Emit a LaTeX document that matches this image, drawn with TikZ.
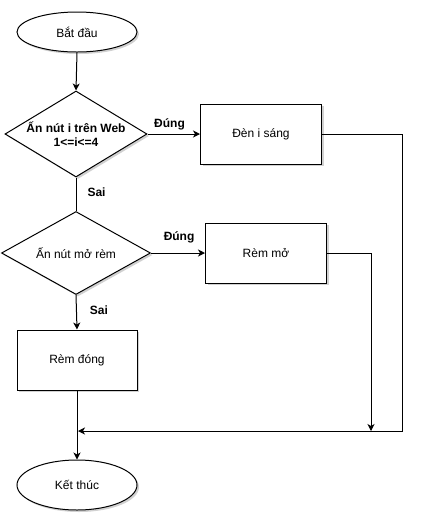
\documentclass[tikz,border=0pt]{standalone}
\usepackage{fontspec}
\setmainfont{Liberation Sans}
\usetikzlibrary{shapes.geometric,arrows.meta,shadows}
\begin{document}
\begin{tikzpicture}[x=1pt,y=-1pt,
  every node/.style={font=\fontsize{12}{14}\selectfont},
  shade/.style={drop shadow={shadow xshift=2pt,shadow yshift=-2pt,opacity=0.18,fill=black}},
  shp/.style={draw=black,line width=1pt,fill=white,shade,inner sep=0pt},
  term/.style={shp,ellipse,minimum width=120pt},
  procbox/.style={shp,rectangle,minimum width=121pt,minimum height=60pt},
  decision/.style={shp,diamond},
  lbl/.style={font=\fontsize{12}{14}\selectfont\bfseries,inner sep=1pt},
  conn/.style={line width=1pt,draw=black},
  arr/.style={conn,-{Stealth[length=7pt,width=7pt,inset=2pt]}}
]
\useasboundingbox (0,0) rectangle (421,523);

\node[term,minimum height=40pt] (start) at (77,32) {Bắt đầu};
\node[decision,minimum width=142pt,minimum height=86pt] (d1) at (76,134) {};
\node[align=center,font=\fontsize{12}{14}\selectfont\bfseries] (d1t) at (76,134) {Ấn nút i trên Web\\1<=i<=4};
\node[procbox] (den) at (261,134) {Đèn i sáng};
\node[decision,minimum width=149pt,minimum height=83pt] (d2) at (76,253) {};
\node (d2t) at (76,253) {Ấn nút mở rèm};
\node[procbox] (remmo) at (266,253) {Rèm mở};
\node[procbox,minimum width=120pt] (remdong) at (77,360) {Rèm đóng};
\node[term,minimum height=50pt] (end) at (77,485) {Kết thúc};

\coordinate (j) at (77,431);
\coordinate (r1) at (402,134);
\coordinate (r1b) at (402,431);
\coordinate (r2) at (371,253);
\coordinate (r2b) at (371,431);

\draw[arr] (start.south) -- (d1.north);
\draw[arr] (d1.east) -- node[lbl,pos=0.42,above=2pt] {Đúng} (den.west);
\draw[conn] (d1.south) -- node[lbl,pos=0.45,right=10pt] {Sai} (d2.north);
\draw[arr] (d2.east) -- node[lbl,pos=0.52,above=8pt] {Đúng} (remmo.west);
\draw[arr] (d2.south) -- node[lbl,pos=0.45,right=12pt] {Sai} (remdong.north);
\draw[arr] (remdong.south) -- (end.north);
\draw[arr] (den.east) -- (r1) -- (r1b) -- ([xshift=1pt]j);
\draw[arr] (remmo.east) -- (r2) -- (r2b);
\end{tikzpicture}
\end{document}
